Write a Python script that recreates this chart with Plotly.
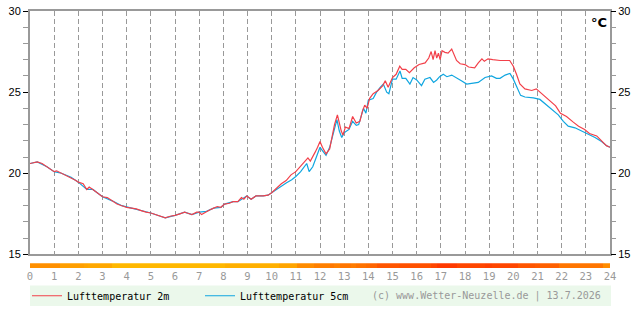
import plotly.graph_objects as go

# ---- data ----
hours_2m = [0.0, 0.15, 0.3, 0.5, 0.7, 0.9, 1.0, 1.1, 1.3, 1.5, 1.7, 1.9, 2.0, 2.2, 2.35, 2.45, 2.6, 2.8,
            3.0, 3.2, 3.4, 3.6, 3.8, 4.0, 4.2, 4.4, 4.6, 4.8, 5.0, 5.2, 5.4, 5.6, 5.8, 6.0, 6.2, 6.4,
            6.5, 6.7, 6.9, 7.0, 7.1, 7.3, 7.45, 7.6, 7.75, 7.9, 8.05, 8.25, 8.4, 8.6, 8.75, 8.85, 8.97,
            9.15, 9.35, 9.65, 9.85, 10.0, 10.2, 10.4, 10.6, 10.8, 11.0, 11.15, 11.35, 11.5, 11.6, 11.7,
            11.8, 11.9, 12.0, 12.1, 12.25, 12.4, 12.5, 12.6, 12.72, 12.8, 12.88, 12.95, 13.05, 13.2,
            13.35, 13.5, 13.65, 13.75, 13.85, 13.95, 14.05, 14.2, 14.4, 14.6, 14.7, 14.82, 15.0, 15.15,
            15.3, 15.4, 15.55, 15.7, 15.9, 16.1, 16.35, 16.5, 16.6, 16.68, 16.76, 16.83, 16.9, 16.97,
            17.05, 17.17, 17.3, 17.45, 17.55, 17.65, 17.8, 18.0, 18.15, 18.4, 18.55, 18.7, 18.8, 18.95,
            19.15, 19.45, 19.85, 20.0, 20.13, 20.27, 20.48, 20.76, 20.95, 21.1, 21.25, 21.5, 21.75,
            21.95, 22.2, 22.48, 22.7, 22.95, 23.15, 23.45, 23.65, 23.85, 24.0]
temp_2m = [20.6, 20.65, 20.7, 20.6, 20.4, 20.2, 20.1, 20.15, 20.0, 19.9, 19.75, 19.55, 19.45, 19.35, 19.0,
           19.15, 19.0, 18.75, 18.55, 18.5, 18.3, 18.1, 18.0, 17.9, 17.85, 17.8, 17.7, 17.6, 17.55,
           17.45, 17.35, 17.25, 17.35, 17.4, 17.5, 17.6, 17.55, 17.45, 17.6, 17.6, 17.45, 17.65, 17.75,
           17.85, 17.95, 17.9, 18.1, 18.15, 18.25, 18.25, 18.5, 18.4, 18.6, 18.4, 18.6, 18.6, 18.65,
           18.8, 19.1, 19.35, 19.55, 19.9, 20.1, 20.35, 20.65, 20.95, 20.75, 21.0, 21.3, 21.6, 21.95,
           21.6, 21.2, 21.5, 22.3, 23.0, 23.6, 23.0, 22.6, 22.35, 22.85, 22.75, 23.5, 23.1, 23.2, 23.8,
           24.2, 24.0, 24.6, 24.9, 25.1, 25.4, 25.7, 25.3, 25.9, 26.1, 26.6, 26.4, 26.4, 26.2, 26.5,
           26.7, 26.8, 27.1, 27.5, 27.0, 27.55, 27.1, 27.4, 27.0, 27.55, 27.45, 27.4, 27.65, 27.3,
           26.95, 26.75, 26.7, 26.55, 26.5, 26.8, 27.05, 26.9, 27.05, 27.0, 26.95, 26.95, 26.6, 26.1,
           25.5, 25.2, 25.1, 25.2, 25.0, 24.8, 24.5, 24.15, 23.7, 23.5, 23.15, 22.9, 22.7, 22.45,
           22.3, 22.0, 21.7, 21.6]

hours_5cm = [0.0, 0.3, 0.7, 1.0, 1.3, 1.7, 2.0, 2.35, 2.6, 3.0, 3.4, 3.8, 4.2, 4.6, 5.0, 5.4, 5.6, 6.0,
             6.4, 6.7, 7.0, 7.3, 7.6, 7.9, 8.05, 8.4, 8.6, 8.97, 9.15, 9.35, 9.65, 9.85, 10.0,
             10.2, 10.4, 10.6, 10.83, 11.0, 11.2, 11.45, 11.55, 11.7, 11.85, 12.0, 12.1,
             12.25, 12.4, 12.55, 12.7, 12.8, 12.9, 13.0, 13.2, 13.35, 13.5, 13.6, 13.8, 13.9, 14.0, 14.2,
             14.34, 14.5, 14.62, 14.76, 14.85, 15.0, 15.15, 15.31, 15.4, 15.55, 15.72, 15.85, 16.0,
             16.2, 16.34, 16.55, 16.7, 16.83, 16.95, 17.1, 17.25, 17.45, 17.65, 17.85, 18.07, 18.28,
             18.55, 18.83, 19.1, 19.3, 19.45, 19.66, 19.86, 20.0, 20.15, 20.3, 20.48, 20.83, 21.1,
             21.3, 21.58, 21.86, 22.07, 22.27, 22.55, 22.83, 23.1, 23.38, 23.65, 23.86, 24.0]
temp_5cm = [20.6, 20.7, 20.4, 20.1, 20.0, 19.75, 19.45, 19.0, 19.0, 18.55, 18.3, 18.0, 17.85, 17.7,
            17.55, 17.35, 17.25, 17.4, 17.6, 17.45, 17.6, 17.65, 17.85, 17.9, 18.1, 18.25, 18.25, 18.6,
            18.4, 18.6, 18.6, 18.65, 18.8,
            19.05, 19.2, 19.4, 19.6, 19.8, 20.1, 20.6,
            20.1, 20.4, 21.0, 21.6, 21.4, 21.1, 21.6, 22.5, 23.3, 22.6, 22.2, 22.5, 22.7, 23.2, 22.95,
            23.0, 24.0, 23.7, 24.5, 24.6, 25.0, 25.3, 25.5, 25.0, 24.9, 25.8, 25.8, 26.3, 25.85, 25.85,
            25.5, 25.9, 25.75, 25.4, 25.8, 25.9, 25.6, 25.75, 25.95, 26.1, 25.95, 26.05, 25.9, 25.7,
            25.5, 25.55, 25.6, 25.9, 26.0, 25.85, 25.85, 26.05, 26.15, 25.8, 25.35, 24.8, 24.7, 24.65,
            24.55, 24.3, 24.0, 23.6, 23.2, 22.9, 22.8, 22.6, 22.4, 22.2, 21.95, 21.7, 21.6]

# colour band below the chart (segment edges in hours, segment temperature)
bar_edges = [0.0, 1.23, 2.23, 2.38, 3.38, 8.06, 10.32, 11.05, 11.74, 12.43, 12.59, 12.82, 13.28, 13.51,
             13.89, 14.05, 14.35, 15.27, 16.58, 16.86, 17.65, 18.81, 19.11, 20.19, 20.88, 21.11, 21.88,
             23.72, 24.0]
bar_temps = [20.6, 19.4, 19.0, 18.7, 17.5, 18.1, 19.0, 20.9, 21.9, 22.5, 21.9, 22.7, 22.2, 22.9, 23.4,
             24.1, 25.25, 25.6, 26.4, 27.4, 26.4, 26.9, 26.4, 25.25, 24.85, 24.4, 22.7, 20.9]

y_ticks = [15, 20, 25, 30]
x_tick_vals = list(range(25))
x_tick_text = [str(v) for v in x_tick_vals]

# ---- geometry helpers ----
W, H = 640, 315
ML, MR, MT, MB = 30, 30, 5, 46
PH = H - MT - MB  # 264


def py(pix):
    return (H - MB - pix) / PH


def px(pix):
    return (pix - ML) / (W - ML - MR)


mono = "DejaVu Sans Mono"

fig = go.Figure()
fig.add_trace(go.Scatter(x=hours_5cm, y=temp_5cm, mode="lines", name="Lufttemperatur 5cm",
                         line=dict(color="#10A6E0", width=1.2), legendrank=2, hoverinfo="skip",
                         xaxis="x", yaxis="y"))
fig.add_trace(go.Scatter(x=hours_2m, y=temp_2m, mode="lines", name="Lufttemperatur 2m",
                         line=dict(color="#F2404A", width=1.2), legendrank=1, hoverinfo="skip",
                         xaxis="x", yaxis="y2"))

centers = [(a + b) / 2 for a, b in zip(bar_edges[:-1], bar_edges[1:])]
widths = [b - a for a, b in zip(bar_edges[:-1], bar_edges[1:])]
fig.add_trace(go.Bar(x=centers, y=[1] * len(centers), width=widths, xaxis="x2", yaxis="y3",
                     marker=dict(color=bar_temps, colorscale=[[0, "#FFBE00"], [1, "#FF3200"]],
                                 cmin=17, cmax=28, line=dict(width=0)),
                     showlegend=False, hoverinfo="skip"))

tick_font = dict(family="Liberation Sans", size=11, color="#000000")

fig.update_layout(
    width=W, height=H,
    margin=dict(l=ML, r=MR, t=MT, b=MB, pad=0),
    paper_bgcolor="white", plot_bgcolor="white",
    showlegend=True,
    bargap=0,
    xaxis=dict(domain=[0, 1], anchor="y", range=[0, 24], dtick=1, showticklabels=False, ticks="",
               showgrid=True, gridcolor="#999999", gridwidth=1, griddash="5px,3px",
               showline=True, linecolor="#999999", linewidth=2, mirror=True, zeroline=False),
    yaxis=dict(domain=[py(255), 1], anchor="x", range=[15, 30], tickvals=y_ticks,
               ticks="outside", ticklen=5, tickcolor="#000000", tickwidth=1,
               minor=dict(dtick=1, ticks="outside", ticklen=5, tickcolor="#999999", showgrid=False),
               tickfont=tick_font,
               showgrid=False, showline=True, linecolor="#999999", linewidth=2, mirror=True,
               zeroline=False),
    yaxis2=dict(overlaying="y", anchor="x", side="right", range=[15, 30], tickvals=y_ticks,
                ticks="outside", ticklen=5, tickcolor="#000000", tickwidth=1,
                minor=dict(dtick=1, ticks="outside", ticklen=5, tickcolor="#999999", showgrid=False),
                tickfont=tick_font,
                showgrid=False, showline=False, zeroline=False),
    xaxis2=dict(domain=[0, 1], anchor="y3", range=[0, 24], tickvals=x_tick_vals, ticktext=x_tick_text,
                ticks="", showgrid=False, showline=False, zeroline=False,
                tickfont=dict(family=mono, size=10.5, color="#999999")),
    yaxis3=dict(domain=[0, py(264)], anchor="x2", range=[0, 1], visible=False),
    legend=dict(orientation="h", x=px(27), xanchor="left", y=py(297.5), yanchor="middle",
                bgcolor="rgba(0,0,0,0)", font=dict(family=mono, size=10, color="#000000"),
                entrywidth=128, entrywidthmode="pixels", itemwidth=30,
                traceorder="normal"),
    shapes=[dict(type="rect", xref="paper", yref="paper", x0=0, x1=px(611), y0=py(287), y1=py(308),
                 fillcolor="#EBF8EB", line=dict(width=0), layer="below")],
    annotations=[
        dict(text="(c) www.Wetter-Neuzelle.de | 13.7.2026", xref="paper", yref="paper",
             x=px(603), y=py(297.5), xanchor="right", yanchor="middle", showarrow=False,
             font=dict(family=mono, size=10, color="#999999")),
        dict(text="<b>°C</b>", xref="paper", yref="paper", x=px(599), y=py(16.5),
             xanchor="center", yanchor="middle", showarrow=False,
             font=dict(family="DejaVu Sans", size=13, color="#000000")),
    ],
)

fig.write_html("out.html")
